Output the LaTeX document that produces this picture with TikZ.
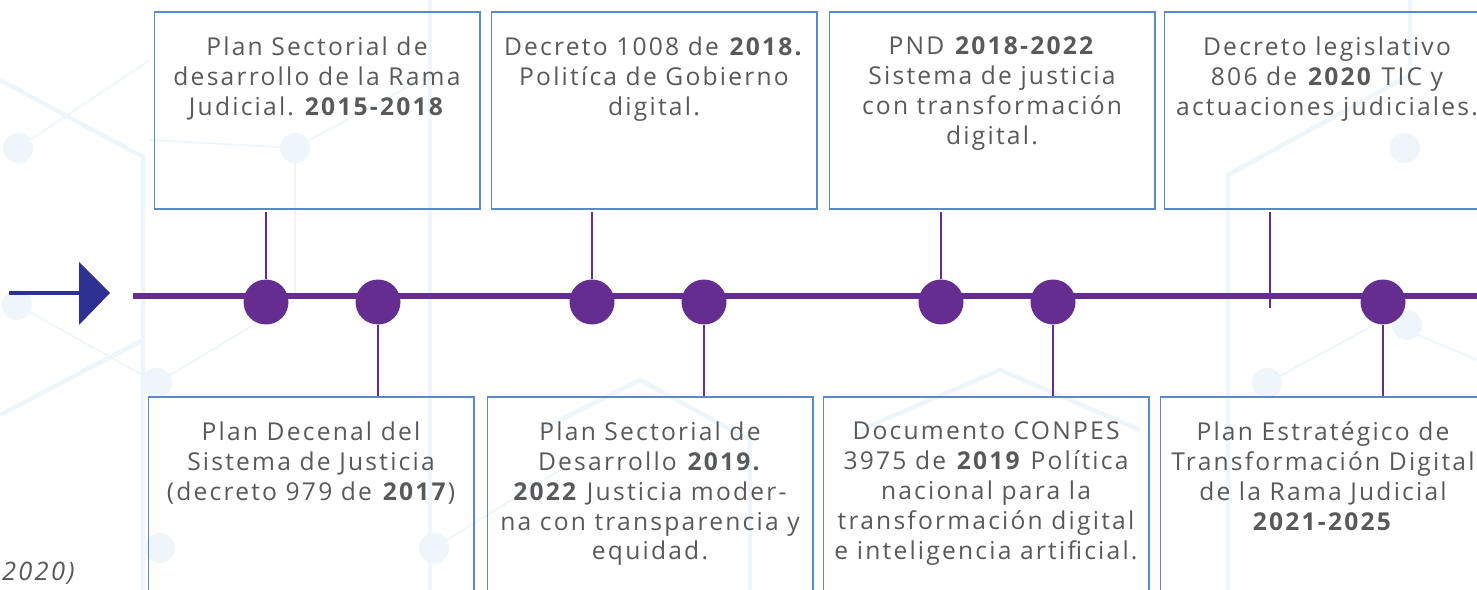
\documentclass[tikz,border=0pt]{standalone}
\usepackage{fontspec}
\setmainfont[LetterSpace=9]{Open Sans}
\usetikzlibrary{positioning}
\frenchspacing

\definecolor{tlpurple}{HTML}{662D91}
\definecolor{arrblue}{HTML}{2E3192}
\definecolor{boxblue}{HTML}{5B87CC}
\definecolor{txtgray}{HTML}{58595B}
\definecolor{bgline}{HTML}{EEF6FB}

\tikzset{
  box/.style={draw=boxblue, line width=0.6pt, minimum width=6.52cm, minimum height=3.94cm, inner sep=0pt},
  txt/.style={align=center, text=txtgray, font=\fontsize{14}{17}\selectfont, inner sep=0pt, anchor=north},
  dot/.style={circle, fill=tlpurple, minimum size=0.9cm, inner sep=0pt},
  conn/.style={tlpurple, line width=1.4pt, shorten <=1.5pt},
  bgnet/.style={bgline, line width=1pt},
  bgknot/.style={fill=bgline}
}

\begin{document}
\begin{tikzpicture}[x=0.02cm, y=-0.02cm]
\useasboundingbox (0,0) rectangle (1477,590);
\clip (0,0) rectangle (1477,590);

% faint network in the background
\draw[bgnet, line width=2.5pt] (0,80) -- (143,157) -- (143,590);
\draw[bgnet, line width=2.5pt] (143,340) -- (0,415);
\draw[bgnet] (17,305) -- (157,383) -- (295,300);
\draw[bgnet] (18,148) -- (150,60);
\draw[bgnet] (150,140) -- (295,148) -- (430,75);
\draw[bgnet] (295,148) -- (295,300);
\draw[bgnet, line width=2.5pt] (430,0) -- (430,590);
\draw[bgnet] (434,548) -- (560,470);
\draw[bgnet, line width=2.5pt] (540,430) -- (640,380) -- (750,440) -- (750,590);
\draw[bgnet, line width=2.5pt] (860,430) -- (1000,370) -- (1140,430);
\draw[bgnet, line width=2.5pt] (1228,590) -- (1228,175) -- (1410,75) -- (1410,0);
\draw[bgnet] (1267,383) -- (1383,320) -- (1477,360);
\foreach \x/\y in {18/148, 295/148, 17/305, 157/383, 434/548, 160/548, 1405/148, 1267/383, 1407/325}
  \fill[bgknot] (\x,\y) circle (15);

% arrow at the start
\draw[arrblue, line width=2.8pt] (9,293) -- (80,293);
\fill[arrblue] (79,262) -- (110,293) -- (79,325) -- cycle;

% timeline
\coordinate (tl0) at (133,296);
\coordinate (tl1) at (1490,296);
\draw[tlpurple, line width=3.4pt] (tl0) -- (tl1);

\foreach \x [count=\i] in {266,378,592,704,941,1053,1383}
  \node[dot] (d\i) at (\x,302) {};
\coordinate (t4) at (1270,308);

% boxes above the line
\node[box] (p1) at (317,110.5) {};
\node[box] (p2) at (654,110.5) {};
\node[box] (p3) at (992,110.5) {};
\node[box] (p4) at (1327,110.5) {};

\node[txt] (p1t) at ([yshift=-0.5cm]p1.north) {Plan Sectorial de\\desarrollo de la Rama\\Judicial. \textbf{2015-2018}};
\node[txt] (p2t) at ([yshift=-0.5cm]p2.north) {Decreto 1008 de \textbf{2018.}\\Politíca de Gobierno\\digital.};
\node[txt] (p3t) at ([yshift=-0.5cm]p3.north) {PND \textbf{2018-2022}\\Sistema de justicia\\con transformación\\digital.};
\node[txt] (p4t) at ([yshift=-0.5cm]p4.north) {Decreto legislativo\\806 de \textbf{2020} TIC y\\actuaciones judiciales.};

% boxes below the line
\node[box] (q1) at (311,495.5) {};
\node[box] (q2) at (650,495.5) {};
\node[box] (q3) at (986,495.5) {};
\node[box] (q4) at (1323,495.5) {};

\node[txt] (q1t) at ([yshift=-0.5cm]q1.north) {Plan Decenal del\\Sistema de Justicia\\(decreto 979 de \textbf{2017})};
\node[txt] (q2t) at ([yshift=-0.5cm]q2.north) {Plan Sectorial de\\Desarrollo \textbf{2019.}\\\textbf{2022} Justicia moder-\\na con transparencia y\\equidad.};
\node[txt] (q3t) at ([yshift=-0.5cm]q3.north) {Documento CONPES\\3975 de \textbf{2019} Política\\nacional para la\\transformación digital\\e inteligencia artificial.};
\node[txt] (q4t) at ([yshift=-0.5cm]q4.north) {Plan Estratégico de\\Transformación Digital\\de la Rama Judicial\\\textbf{2021-2025}};

% connectors
\draw[conn] (p1.south -| d1) -- (d1);
\draw[conn] (p2.south -| d3) -- (d3);
\draw[conn] (p3.south -| d5) -- (d5);
\draw[conn] (p4.south -| t4) -- (t4);
\draw[conn, shorten <=0pt] (d2) -- (q1.north -| d2);
\draw[conn, shorten <=0pt] (d4) -- (q2.north -| d4);
\draw[conn, shorten <=0pt] (d6) -- (q3.north -| d6);
\draw[conn, shorten <=0pt] (d7) -- (q4.north -| d7);

% source, at the edge
\node[anchor=base east, inner sep=0pt, text=txtgray, font=\fontsize{14.5}{18}\selectfont\itshape] (src) at (75,581) {2020)};
\end{tikzpicture}
\end{document}
